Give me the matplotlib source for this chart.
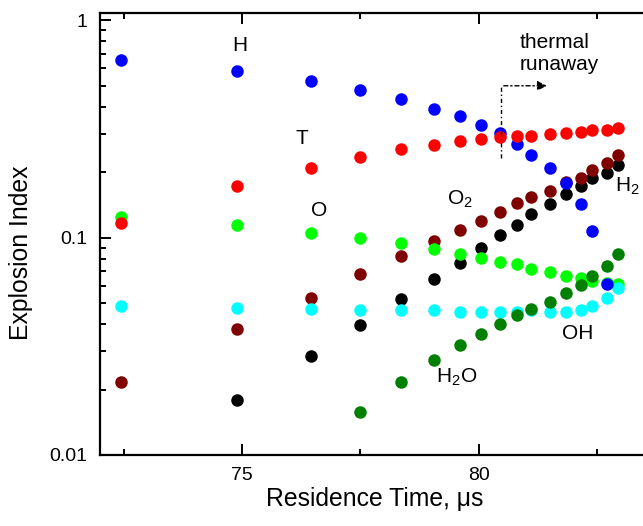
import numpy as np
import matplotlib
matplotlib.use("Agg")
from matplotlib import pyplot as plt

plt.rcParams['font.family'] = ['Liberation Sans', 'DejaVu Sans']
plt.rcParams['mathtext.fontset'] = 'custom'
plt.rcParams['mathtext.rm'] = 'Liberation Sans'

# residence time (us) of each computed point
time = [72.45, 74.9, 76.45, 77.5, 78.35, 79.05, 79.6, 80.05, 80.45,
        80.8, 81.1, 81.5, 81.85, 82.15, 82.4, 82.7, 82.95]

# explosion index per species / temperature
h_idx = [0.656, 0.586, 0.526, 0.475, 0.434, 0.391, 0.361, 0.328, 0.303,
         0.270, 0.241, 0.209, 0.179, 0.142, 0.107, 0.0612]
t_idx = [0.117, 0.173, 0.210, 0.235, 0.256, 0.266, 0.277, 0.285, 0.289,
         0.294, 0.292, 0.300, 0.303, 0.306, 0.311, 0.311, 0.319]
o_idx = [0.125, 0.114, 0.105, 0.0998, 0.094, 0.0886, 0.084, 0.0803, 0.077,
         0.0756, 0.0717, 0.0693, 0.0665, 0.0651, 0.0628, 0.062, 0.0612]
oh_idx = [0.0487, 0.0474, 0.0471, 0.0462, 0.0462, 0.0462, 0.0457, 0.0457, 0.0457,
          0.0455, 0.0462, 0.0455, 0.0455, 0.0462, 0.0482, 0.0527, 0.0587]
o2_idx = [0.0216, 0.0381, 0.0529, 0.0681, 0.082, 0.0967, 0.108, 0.119, 0.131,
          0.144, 0.153, 0.164, 0.180, 0.188, 0.204, 0.221, 0.241]
h2_idx = [0.0179, 0.0285, 0.0398, 0.0523, 0.0646, 0.0762, 0.0893, 0.103,
          0.114, 0.128, 0.142, 0.159, 0.173, 0.188, 0.199, 0.215]
h2o_idx = [0.0158, 0.0216, 0.0273, 0.032, 0.0362, 0.0402, 0.0439, 0.0471,
           0.0508, 0.0555, 0.0602, 0.0664, 0.0743, 0.084]

fig = plt.figure(figsize=(6.43, 5.26), dpi=100)
ax = fig.add_axes([0.1555, 0.135, 0.8445, 0.84])

ms = 9
# drawing order matters for the overlapping dots
ax.plot(time[1:], h2_idx, 'o', color='black', ms=ms, mew=0)
ax.plot(time, o2_idx, 'o', color='#800000', ms=ms, mew=0)
ax.plot(time, o_idx, 'o', color='#00ff00', ms=ms, mew=0)
ax.plot(time, oh_idx, 'o', color='#00ffff', ms=ms, mew=0)
ax.plot(time[3:], h2o_idx, 'o', color='#008000', ms=ms, mew=0)
ax.plot(time[:16], h_idx, 'o', color='#0000ff', ms=ms, mew=0)
ax.plot(time, t_idx, 'o', color='#ff0000', ms=ms, mew=0)

ax.set_yscale('log')
ax.set_xlim(72.0, 83.47)
ax.set_ylim(0.01, 1.077)
ax.set_yticks([0.01, 0.1, 1])
ax.set_yticklabels(['0.01', '0.1', '1'])
ax.set_xticks([75, 80])
ax.set_xticks([72.5, 77.5, 82.5], minor=True)

for s in ['left', 'bottom', 'top']:
    ax.spines[s].set_linewidth(1.6)
ax.spines['right'].set_visible(False)
ax.tick_params(which='both', direction='in', top=True, right=False,
               width=1.4, labelsize=14, pad=9)
ax.tick_params(which='major', length=8)
ax.tick_params(which='minor', length=4.5)

ax.set_xlabel('Residence Time, μs', fontsize=17.8)
ax.set_ylabel('Explosion Index', fontsize=17.8)
ax.xaxis.set_label_coords(0.505, -0.072)
ax.yaxis.set_label_coords(-0.123, 0.458)

lab = dict(fontsize=15, ha='left', va='baseline')
ax.text(74.96, 0.768, 'H', fontsize=15, ha='center', va='center')
ax.text(76.27, 0.285, 'T', fontsize=15, ha='center', va='center')
ax.text(76.63, 0.1336, 'O', fontsize=15, ha='center', va='center')
ax.text(79.32, 0.142, 'O$_\\mathregular{2}$', **lab)
ax.text(82.88, 0.163, 'H$_\\mathregular{2}$', **lab)
ax.text(81.76, 0.0343, 'OH', **lab)
ax.text(79.09, 0.0216, 'H$_\\mathregular{2}$O', **lab)
ax.text(80.87, 0.87, 'thermal\nrunaway', fontsize=15, ha='left', va='top',
        linespacing=1.2)

# thermal runaway marker
ax.plot([80.47, 80.47], [0.233, 0.499], color='black', lw=1, ls=(0, (3, 2, 1, 2)))
ax.annotate('', xy=(81.5, 0.499), xytext=(80.47, 0.499),
            arrowprops=dict(arrowstyle='-|>', color='black', lw=1,
                            ls=(0, (3, 2, 1, 2)), mutation_scale=14))

fig.savefig('out.png', dpi=100)
